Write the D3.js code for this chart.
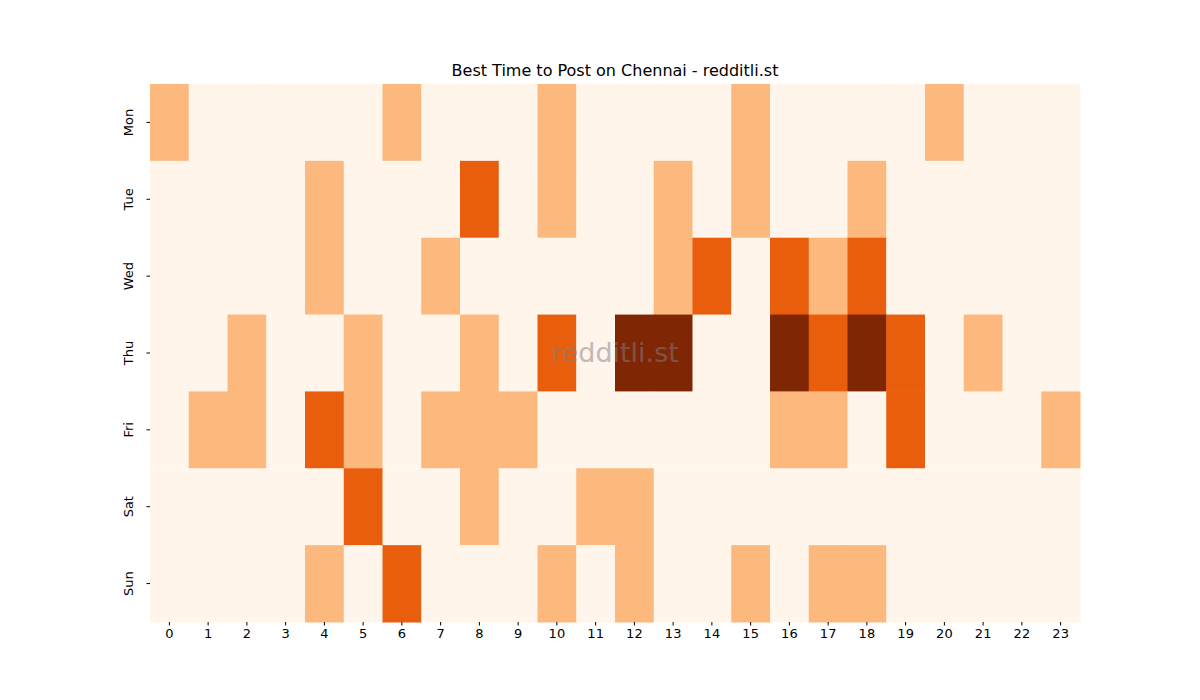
<!DOCTYPE html>
<html><head><meta charset="utf-8">
<script src="https://cdn.jsdelivr.net/npm/d3@7"></script>
<style>body{margin:0;background:#fff}text{font-family:"DejaVu Sans",sans-serif}</style>
</head><body><svg id="c" width="1200" height="700"></svg>
<script>
const days = ["Mon","Tue","Wed","Thu","Fri","Sat","Sun"];
const hours = d3.range(24).map(String);
const Mon = [1,0,0,0,0,0,1,0,0,0,1,0,0,0,0,1,0,0,0,0,1,0,0,0];
const Tue = [0,0,0,0,1,0,0,0,2,0,1,0,0,1,0,1,0,0,1,0,0,0,0,0];
const Wed = [0,0,0,0,1,0,0,1,0,0,0,0,0,1,2,0,2,1,2,0,0,0,0,0];
const Thu = [0,0,1,0,0,1,0,0,1,0,2,0,3,3,0,0,3,2,3,2,0,1,0,0];
const Fri = [0,1,1,0,2,1,0,1,1,1,0,0,0,0,0,0,1,1,0,2,0,0,0,1];
const Sat = [0,0,0,0,0,2,0,0,1,0,0,1,1,0,0,0,0,0,0,0,0,0,0,0];
const Sun = [0,0,0,0,1,0,2,0,0,0,1,0,1,0,0,1,0,1,1,0,0,0,0,0];
const rows = [Mon,Tue,Wed,Thu,Fri,Sat,Sun];
const colors = ["#fff5eb","#fdb97d","#e95e0d","#7f2704"];

const svg = d3.select("#c");
const L=150,R=1080,T=84,B=622;
const x = d3.scaleBand().domain(hours).range([L,R]);
const y = d3.scaleBand().domain(days).range([T,B]);
const color = d3.scaleOrdinal().domain([0,1,2,3]).range(colors);
const cells = [];
rows.forEach((r,i)=>r.forEach((v,j)=>cells.push({d:days[i],h:hours[j],v})));
svg.append("g").selectAll("rect").data(cells).join("rect")
  .attr("x",d=>x(d.h)).attr("y",d=>y(d.d))
  .attr("width",x.bandwidth()+0.5).attr("height",y.bandwidth()+0.5)
  .attr("fill",d=>color(d.v));
const xa = svg.append("g").attr("transform",`translate(0,${B})`).call(d3.axisBottom(x).tickSize(3.5).tickPadding(3.5));
const ya = svg.append("g").attr("transform",`translate(${L},0)`).call(d3.axisLeft(y).tickSize(3.5).tickPadding(3.5));
[xa,ya].forEach(a=>{a.select(".domain").remove();a.selectAll("text").attr("font-size",13).attr("fill","#000").attr("font-family","DejaVu Sans");a.selectAll("line").attr("stroke","#000");});
ya.selectAll("text").attr("text-anchor","middle").attr("transform","rotate(-90)").attr("x",0).attr("y",-16).attr("dy","0.35em")
  .each(function(d){d3.select(this).attr("transform",`translate(${-4},0) rotate(-90)`).attr("y",-13).attr("dy","0");});
svg.append("text").attr("x",(L+R)/2).attr("y",76).attr("text-anchor","middle").attr("font-size",16).text("Best Time to Post on Chennai - redditli.st");
svg.append("text").attr("x",(L+R)/2).attr("y",362).attr("text-anchor","middle").attr("font-size",27).attr("fill","#808080").attr("opacity",0.5).text("redditli.st");
</script></body></html>
